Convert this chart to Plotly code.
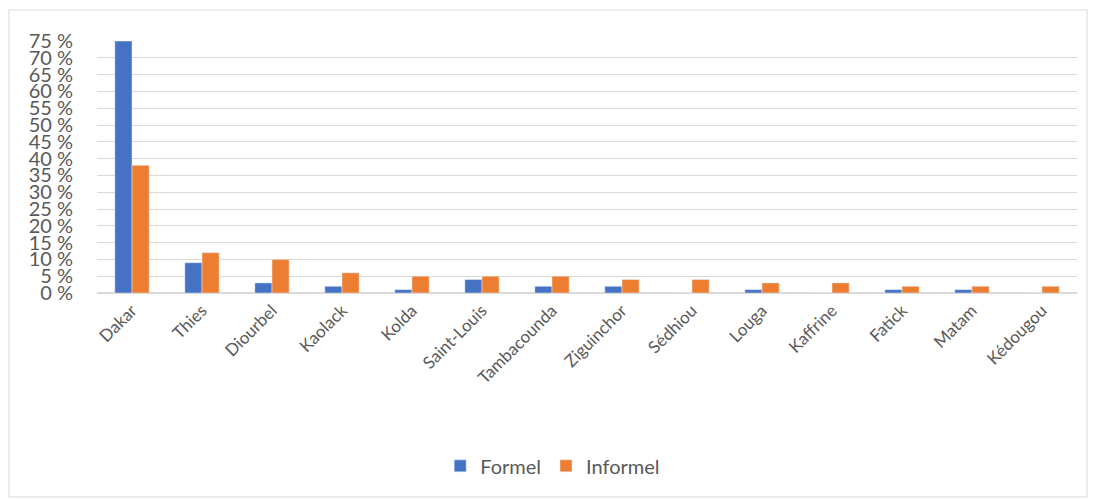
import plotly.graph_objects as go

regions = ["Dakar", "Thies", "Diourbel", "Kaolack", "Kolda", "Saint-Louis", "Tambacounda",
           "Ziguinchor", "Sédhiou", "Louga", "Kaffrine", "Fatick", "Matam", "Kédougou"]
formel = [75, 9, 3, 2, 1, 4, 2, 2, 0, 1, 0, 1, 1, 0]
informel = [38, 12, 10, 6, 5, 5, 5, 4, 4, 3, 3, 2, 2, 2]
y_ticks = list(range(0, 80, 5))
y_tick_labels = [f"{v} %" for v in y_ticks]

FONT = "Lato, Calibri, Carlito, sans-serif"
GRAY = "#595959"

fig = go.Figure()
fig.add_trace(go.Bar(name="Formel", x=regions, y=formel, marker=dict(color="#4472C4")))
fig.add_trace(go.Bar(name="Informel", x=regions, y=informel, marker=dict(color="#ED7D31")))

fig.update_layout(
    width=1097, height=500,
    margin=dict(l=89, r=28, t=33, b=215, autoexpand=False),
    paper_bgcolor="white", plot_bgcolor="white",
    barmode="group", bargap=0.51, bargroupgap=0,
    font=dict(family=FONT, color=GRAY),
    showlegend=True,
    legend=dict(orientation="h", x=0.465, xanchor="center", y=-0.686, yanchor="middle",
                font=dict(size=20, color=GRAY, family=FONT)),
    xaxis=dict(tickangle=-45, tickfont=dict(size=17, color=GRAY, family=FONT),
               showgrid=False, showline=True, linecolor="#d9d9d9", ticks="",
               automargin=False),
    yaxis=dict(range=[0, 75], tickmode="array", tickvals=y_ticks, ticktext=y_tick_labels,
               tickfont=dict(size=20, color=GRAY, family=FONT),
               showgrid=True, gridcolor="#d9d9d9", gridwidth=1,
               zeroline=True, zerolinecolor="#d9d9d9", ticklabelstandoff=23,
               automargin=False),
    shapes=[dict(type="rect", xref="paper", yref="paper", x0=-0.0898, x1=1.0102,
                 y0=-0.8095, y1=1.123, line=dict(color="#d9d9d9", width=1))],
)

fig.write_html("out.html")
